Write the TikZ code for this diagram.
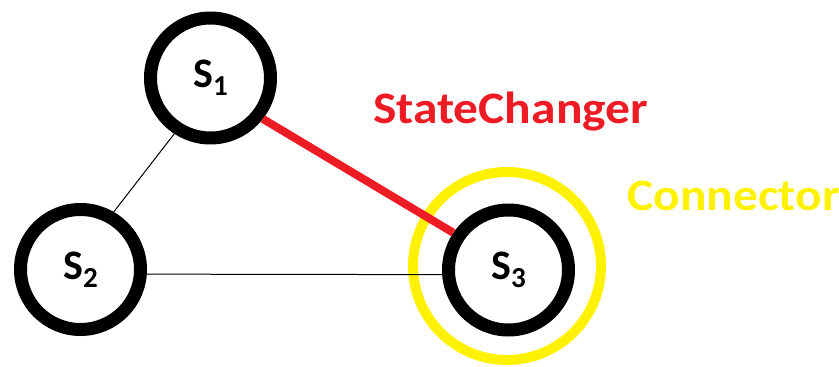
\documentclass[tikz,border=0pt]{standalone}
\usepackage{fontspec}
\setmainfont{Carlito}
\definecolor{paintred}{RGB}{237,28,36}
\definecolor{paintyellow}{RGB}{255,242,0}
\newcommand{\statelbl}[1]{\fontsize{42}{42}\selectfont\bfseries S\raisebox{-8pt}{\fontsize{29}{29}\selectfont\bfseries #1}}
\newcommand{\widetext}[1]{\scalebox{1.1}[1]{\fontsize{45}{45}\selectfont\bfseries #1}}
\begin{document}
\begin{tikzpicture}[x=1pt,y=-1pt,
  statenode/.style={circle,draw=black,line width=13pt,minimum size=120pt,inner sep=0pt,fill=none},
  ring/.style={circle,draw=paintyellow,line width=10pt,minimum size=188pt,inner sep=0pt},
  thinline/.style={draw=black,line width=1pt},
  redline/.style={draw=paintred,line width=8pt},
  lbl/.style={anchor=base west,inner sep=0pt}]
\path[use as bounding box] (0,0) rectangle (839,367);
\node[ring] (conn) at (507,266) {};
\node[statenode] (s1) at (210.5,78) {\statelbl{1}};
\node[statenode] (s2) at (80.5,269.5) {\statelbl{2}};
\node[statenode] (s3) at (508.5,270) {\statelbl{3}};
\draw[thinline] (s1.237) -- (s2.60);
\draw[thinline] (s2.-4) -- (s3.184);
\draw[redline] (s1.-38) -- (s3.146);
\node[lbl,text=paintred] (sc) at (373,123) {\widetext{StateChanger}};
\node[lbl,text=paintyellow] (ct) at (627,210) {\widetext{Connector}};
\end{tikzpicture}
\end{document}
